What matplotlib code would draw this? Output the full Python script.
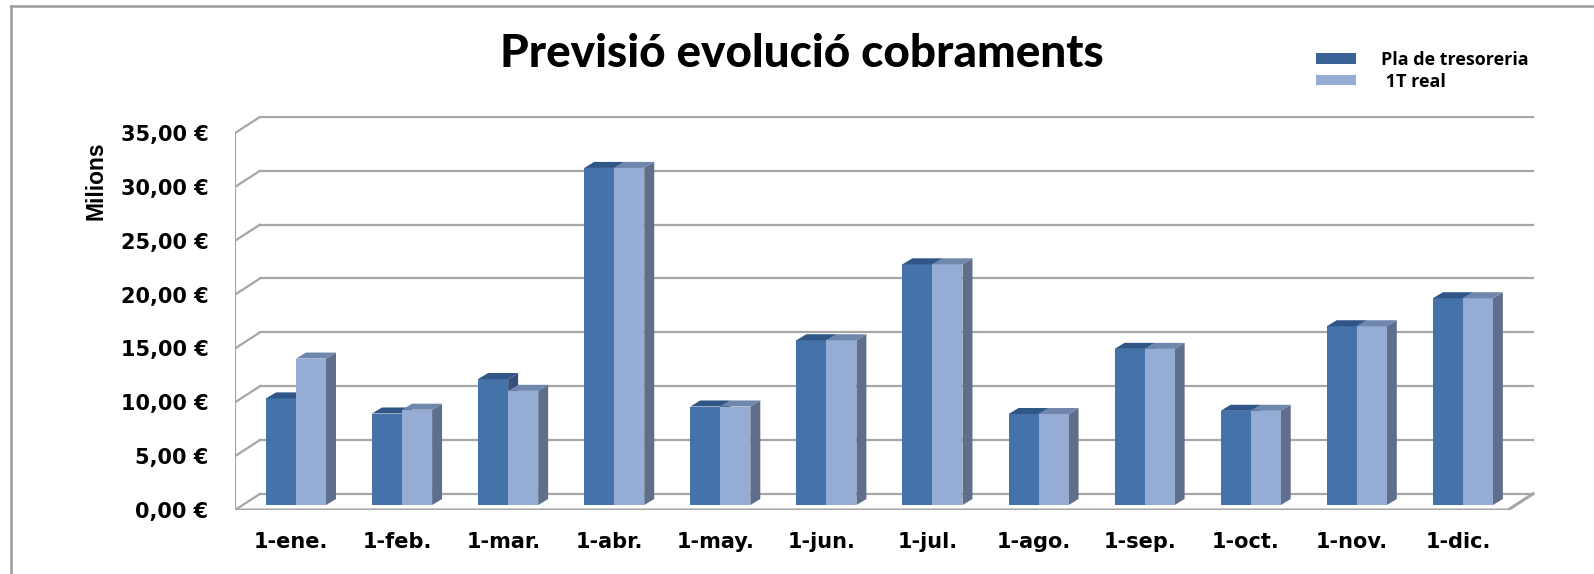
import matplotlib.pyplot as plt
from matplotlib.patches import Polygon, Patch
from matplotlib.lines import Line2D

# data (millions of euros)
mesos = ["1-ene.", "1-feb.", "1-mar.", "1-abr.", "1-may.", "1-jun.",
         "1-jul.", "1-ago.", "1-sep.", "1-oct.", "1-nov.", "1-dic."]
pla_tresoreria = [9.9, 8.5, 11.7, 31.3, 9.15, 15.3, 22.35, 8.45, 14.5, 8.75, 16.6, 19.2]
real_1t = [13.6, 8.85, 10.6, 31.3, 9.15, 15.3, 22.35, 8.45, 14.5, 8.75, 16.6, 19.2]
yticks = [0, 5, 10, 15, 20, 25, 30, 35]

W, H = 1594, 574
fig = plt.figure(figsize=(W / 100, H / 100), dpi=100)

# 3D look: offsets of the back wall and of the bar depth (data units)
DX, DY = 0.236, 1.5
BDX, BDY = 0.094, 0.56
Z0 = 0.46          # bar base sits a little behind the front edge
x_off, bw = 0.292, 0.283

px_x = 106.08      # px per category
px_y = 10.77       # px per unit
x_lim = 12 + DX + 0.02
y_lim = 35 + DY + 0.1
left_px, zero_px = 235, 510
ax = fig.add_axes([left_px / W, (H - zero_px) / H,
                   x_lim * px_x / W, y_lim * px_y / H])
ax.set_xlim(0, x_lim)
ax.set_ylim(0, y_lim)
for s in ax.spines.values():
    s.set_visible(False)

grid_c = "#a6a6a6"
lw = 1.6
# back wall gridlines + left wall diagonals
for v in yticks:
    ax.plot([DX, 12 + DX], [v + DY, v + DY], color=grid_c, lw=lw, zorder=1)
    ax.plot([0, DX], [v, v + DY], color=grid_c, lw=lw, zorder=1)
ax.plot([0, 0], [0, 35], color=grid_c, lw=lw, zorder=1)
# floor
ax.plot([0, 12, 12 + DX], [0, 0, DY], color=grid_c, lw=lw + 0.6, zorder=1)

series = [
    (pla_tresoreria, "#4672aa", "#2f5686", "#34507a", 0),
    (real_1t, "#95acd4", "#7087ad", "#5f6e8a", 1),
]
for i in range(12):
    for vals, front, top, side, k in series:
        v = vals[i]
        x0 = i + x_off + k * bw
        x1 = x0 + bw
        h = Z0 + v
        ax.bar(x0, v, width=bw, bottom=Z0, align="edge", color=front,
               linewidth=0, zorder=3 + k)
        ax.add_patch(Polygon([(x0, h), (x1, h), (x1 + BDX, h + BDY), (x0 + BDX, h + BDY)],
                             closed=True, facecolor=top, lw=0, zorder=3 + k))
        ax.add_patch(Polygon([(x1, Z0), (x1 + BDX, Z0 + BDY), (x1 + BDX, h + BDY), (x1, h)],
                             closed=True, facecolor=side, lw=0, zorder=2.9 + k))

ax.set_yticks(yticks)
ax.set_yticklabels([f"{v},00 €" for v in yticks])
ax.set_xticks([i + 0.53 for i in range(12)])
ax.set_xticklabels(mesos)
ax.tick_params(axis="y", length=0, pad=19, labelsize=15)
ax.tick_params(axis="x", length=0, pad=16, labelsize=15)
for t in ax.get_yticklabels() + ax.get_xticklabels():
    t.set_fontfamily("DejaVu Sans")
    t.set_fontweight("bold")

ax.set_ylabel("Milions", fontsize=16.5, fontweight="bold",
              family=["Liberation Sans Narrow", "Liberation Sans"])
ax.yaxis.set_label_coords((108 - left_px) / (x_lim * px_x), (zero_px - 181) / (y_lim * px_y))

fig.text(802 / W, 1 - 54 / H, "Previsió evolució cobraments", ha="center", va="center",
         fontsize=33, fontweight="black", family="Lato")

handles = [Patch(facecolor="#3a6296", edgecolor="none"),
           Patch(facecolor="#95acd4", edgecolor="none")]
fs_leg = 13
fpx = fs_leg * 100 / 72
fig.legend(handles, ["Pla de tresoreria", " 1T real"], loc="upper left",
           bbox_to_anchor=(1316 / W, 1 - 51 / H), frameon=False,
           prop={"family": "Open Sans", "weight": "bold", "size": fs_leg},
           handlelength=40 / fpx, handleheight=9 / fpx, handletextpad=25 / fpx,
           labelspacing=0.2, borderpad=0, borderaxespad=0)

# outer chart frame (top and left edges visible)
fig.add_artist(Line2D([11 / W, 1], [1 - 6 / H, 1 - 6 / H], transform=fig.transFigure,
                      color="#9a9a9a", lw=1.8))
fig.add_artist(Line2D([11 / W, 11 / W], [0, 1 - 6 / H], transform=fig.transFigure,
                      color="#9a9a9a", lw=1.8))

fig.savefig("out.png", dpi=100)
